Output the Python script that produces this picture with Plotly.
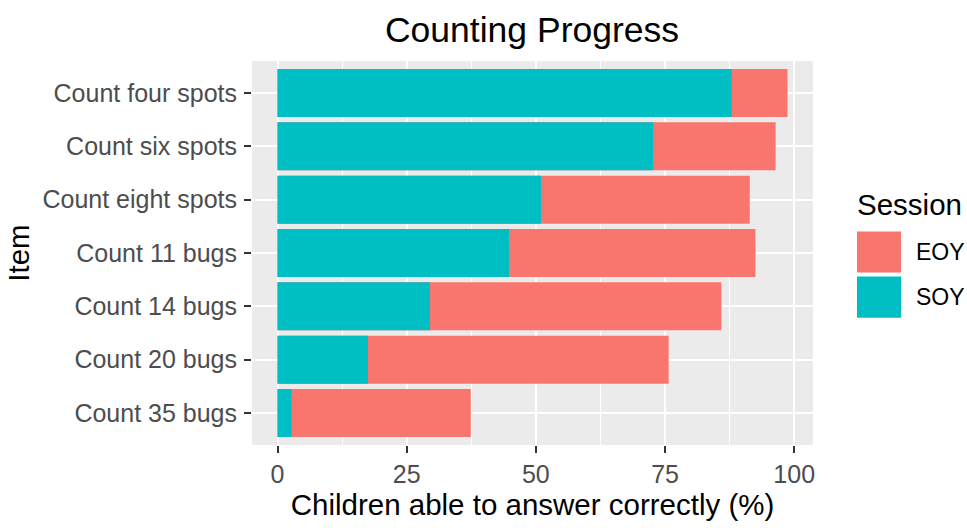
import plotly.graph_objects as go

items = ["Count four spots", "Count six spots", "Count eight spots", "Count 11 bugs",
         "Count 14 bugs", "Count 20 bugs", "Count 35 bugs"]
eoy = [98.7, 96.4, 91.4, 92.5, 85.9, 75.7, 37.4]
soy = [87.9, 72.7, 51.0, 44.8, 29.5, 17.5, 2.7]
sessions = ["EOY", "SOY"]
colors = {"EOY": "#F8766D", "SOY": "#00BFC4"}

FONT = "Liberation Sans, Arial, sans-serif"
W, H = 967, 528
L, R, T, B = 252, 154, 61, 75
pw, ph = W - L - R, H - T - B

def px_x(x):
    return (x - L) / pw

def px_y(y):
    return (H - B - y) / ph

fig = go.Figure()
for name, vals in (("EOY", eoy), ("SOY", soy)):
    fig.add_trace(go.Bar(
        x=vals, y=items, orientation="h", name=name, width=0.9,
        marker=dict(color=colors[name], line=dict(width=0)),
        showlegend=False,
    ))

xmax = max(eoy)
pad = 0.05 * xmax

fig.update_layout(
    width=W, height=H,
    margin=dict(l=L, r=R, t=T, b=B, pad=0),
    barmode="overlay",
    paper_bgcolor="white",
    plot_bgcolor="#EBEBEB",
    font=dict(family=FONT, color="#4D4D4D", size=25),
    title=dict(text="Counting Progress", x=px_x(532), xref="paper", xanchor="center",
               y=1 - 30 / H, yref="container", yanchor="middle",
               font=dict(family=FONT, size=35.5, color="black")),
    xaxis=dict(
        range=[-pad, xmax + pad],
        tickvals=[0, 25, 50, 75, 100],
        ticktext=["0", "25", "50", "75", "100"],
        showgrid=True, gridcolor="white", gridwidth=2,
        minor=dict(dtick=12.5, tick0=0, showgrid=True, gridcolor="white", gridwidth=1),
        zeroline=False, showline=False,
        ticks="outside", ticklen=7, tickwidth=2, tickcolor="#333333",
        tickfont=dict(family=FONT, size=25, color="#4D4D4D"),
        title=dict(text="Children able to answer correctly (%)", standoff=7,
                   font=dict(family=FONT, size=29.5, color="black")),
        fixedrange=True,
    ),
    yaxis=dict(
        type="category",
        categoryorder="array", categoryarray=items,
        range=[len(items) - 0.4, -0.6],
        showgrid=True, gridcolor="white", gridwidth=2,
        zeroline=False, showline=False,
        ticks="outside", ticklen=7, tickwidth=2, tickcolor="#333333",
        ticklabelstandoff=2,
        tickfont=dict(family=FONT, size=25, color="#4D4D4D"),
        title=dict(text="Item", standoff=4,
                   font=dict(family=FONT, size=29.5, color="black")),
        fixedrange=True,
    ),
)

# Legend (drawn manually to match ggplot's large keys)
fig.add_annotation(text="Session", xref="paper", yref="paper",
                   x=px_x(855), y=px_y(207), xanchor="left", yanchor="middle",
                   showarrow=False, font=dict(family=FONT, size=29.5, color="black"))
key_tops = [235, 281]
for name, top in zip(sessions, key_tops):
    fig.add_shape(type="rect", xref="paper", yref="paper",
                  x0=px_x(857), x1=px_x(901), y0=px_y(top), y1=px_y(top + 42),
                  fillcolor=colors[name], line=dict(width=0))
    fig.add_annotation(text=name, xref="paper", yref="paper",
                       x=px_x(914), y=px_y(top + 21), xanchor="left", yanchor="middle",
                       showarrow=False, font=dict(family=FONT, size=23, color="black"))

fig.write_html("out.html", config={"displayModeBar": False},
               post_script="document.body.style.margin='0';document.body.style.overflow='hidden';")
